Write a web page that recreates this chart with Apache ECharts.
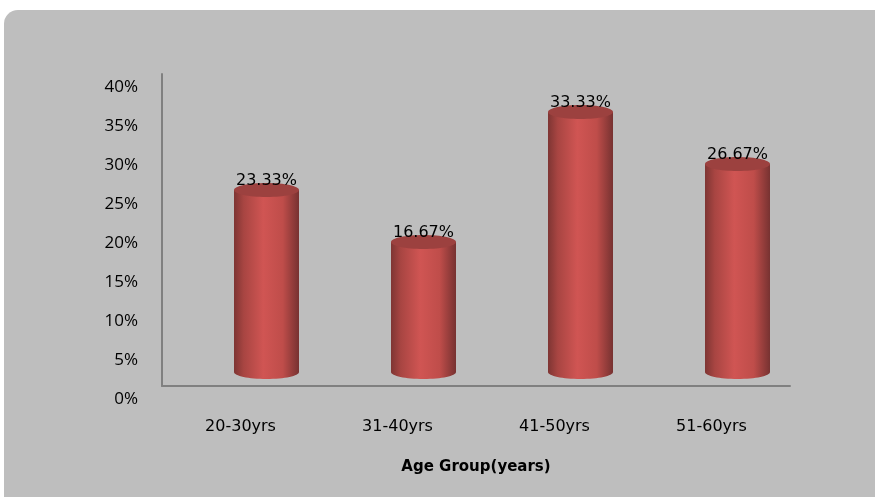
<!DOCTYPE html>
<html>
<head>
<meta charset="utf-8">
<script src="https://cdn.jsdelivr.net/npm/echarts@6/dist/echarts.min.js"></script>
<style>
  html, body { margin: 0; padding: 0; background: #fff; }
  #chart { width: 875px; height: 497px; }
</style>
</head>
<body>
<div id="chart"></div>
<script>
const categories = ['20-30yrs', '31-40yrs', '41-50yrs', '51-60yrs'];
const shares = [23.33, 16.67, 33.33, 26.67];
const yTicks = [0, 5, 10, 15, 20, 25, 30, 35, 40];

// 3d depth shift of the cylinders (back plane vs front axis)
const DX = 26, DY = -14;
const BAR_W = 65, RY = 7;

const chart = echarts.init(document.getElementById('chart'));

const bodyFill = new echarts.graphic.LinearGradient(0, 0, 1, 0, [
  { offset: 0, color: '#7e3533' },
  { offset: 0.15, color: '#a84542' },
  { offset: 0.45, color: '#d05553' },
  { offset: 0.75, color: '#bf4d4a' },
  { offset: 1, color: '#773231' }
]);

function renderCylinder(params, api) {
  const base = api.coord([api.value(0), 0]);
  const top = api.coord([api.value(0), api.value(1)]);
  const cx = base[0] + DX;
  const yb = base[1] + DY;
  const yt = top[1] + DY;
  const rx = BAR_W / 2;
  return {
    type: 'group',
    children: [
      { type: 'ellipse', shape: { cx: cx, cy: yb, rx: rx, ry: RY }, style: { fill: bodyFill } },
      { type: 'rect', shape: { x: cx - rx, y: yt, width: BAR_W, height: yb - yt }, style: { fill: bodyFill } },
      { type: 'ellipse', shape: { cx: cx, cy: yt, rx: rx, ry: RY }, style: { fill: '#9c413f' } },
      {
        type: 'text',
        style: {
          text: api.value(1).toFixed(2) + '%',
          x: cx, y: yt - 1,
          align: 'center', verticalAlign: 'bottom',
          font: '16px "DejaVu Sans"', fill: '#000'
        }
      }
    ]
  };
}

chart.setOption({
  animation: false,
  backgroundColor: 'transparent',
  graphic: [{
    type: 'rect', z: -10,
    shape: { x: 4, y: 10, width: 900, height: 520, r: 14 },
    style: { fill: '#bebebe' }
  }],
  grid: { left: 162, right: 85, top: 74, bottom: 111 },
  xAxis: {
    type: 'category',
    data: categories,
    name: 'Age Group(years)',
    nameLocation: 'middle',
    nameGap: 74,
    nameTextStyle: { fontFamily: 'DejaVu Sans', fontWeight: 'bold', fontSize: 15, color: '#000', verticalAlign: 'top' },
    axisLine: { lineStyle: { color: '#808080', width: 2 } },
    axisTick: { show: false },
    axisLabel: { margin: 33, fontFamily: 'DejaVu Sans', fontSize: 16, color: '#000' }
  },
  yAxis: {
    type: 'value',
    min: yTicks[0],
    max: yTicks[yTicks.length - 1],
    interval: yTicks[1] - yTicks[0],
    axisLine: { show: true, lineStyle: { color: '#808080', width: 2 } },
    axisTick: { show: false },
    splitLine: { show: false },
    axisLabel: {
      margin: 24, fontFamily: 'Open Sans', fontSize: 17, color: '#000',
      verticalAlign: 'top', lineHeight: 26,
      formatter: v => v + '%'
    }
  },
  series: [{
    type: 'custom',
    renderItem: renderCylinder,
    data: shares.map((v, i) => [i, v]),
    encode: { x: 0, y: 1 }
  }]
});
</script>
</body>
</html>
